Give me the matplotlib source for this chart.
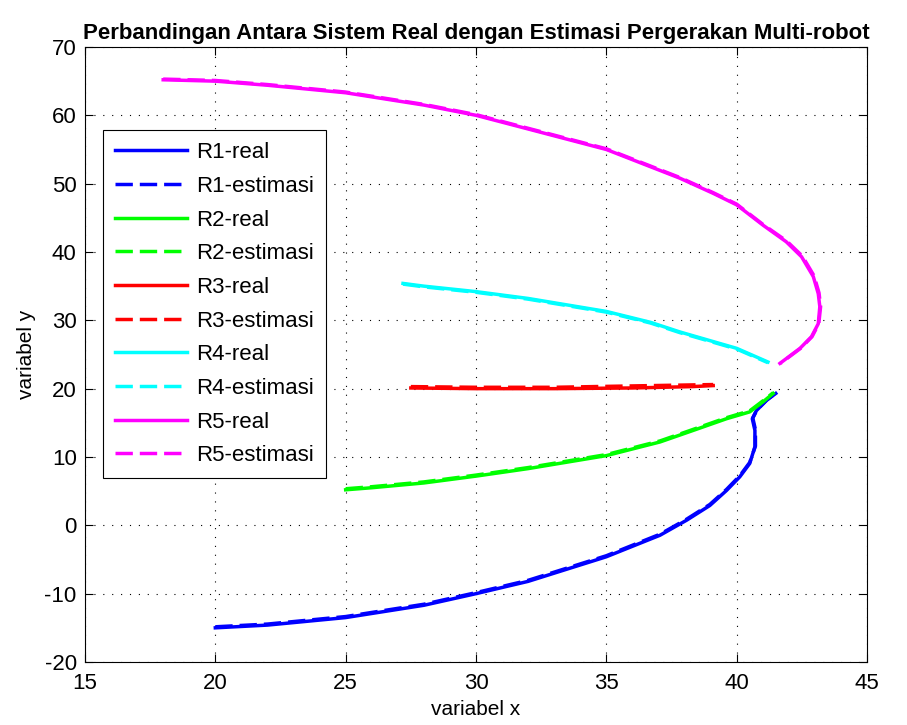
import matplotlib.pyplot as plt
import numpy as np

plt.rcParams['font.family'] = ['Liberation Sans', 'DejaVu Sans']
plt.rcParams['axes.unicode_minus'] = False

# robot paths (x, y)
r1_x = [20, 22, 25, 28, 30, 32, 35, 37.06, 38.08, 38.97, 39.61, 40.12, 40.5, 40.7, 40.7, 40.6, 40.76, 41.15, 41.5]
r1_y = [-15, -14.6, -13.5, -11.7, -10, -8.2, -4.6, -1.45, 0.75, 2.9, 5.1, 7.1, 9.05, 11.5, 13.9, 15.6, 16.8, 18.3, 19.3]
r1e_x = [20, 22, 25, 28, 30, 32, 35, 37.06, 38.08, 38.97, 39.61, 40.12, 40.5, 40.72, 40.72, 40.62, 40.78, 41.17, 41.52]
r1e_y = [-14.85, -14.45, -13.35, -11.55, -9.85, -8.05, -4.45, -1.3, 0.9, 3.05, 5.25, 7.25, 9.2, 11.6, 14.0, 15.7, 16.9, 18.4, 19.4]

r2_x = [25, 26, 28, 30, 32, 35, 37.06, 38.34, 39.61, 40.5, 41.02, 41.4]
r2_y = [5.2, 5.5, 6.2, 7.2, 8.3, 10.2, 12.2, 13.9, 15.6, 16.6, 18.1, 19.3]
r2e_x = [25, 26, 28, 30, 32, 35, 37.06, 38.34, 39.61, 40.5, 41.02, 41.4]
r2e_y = [5.35, 5.65, 6.35, 7.35, 8.45, 10.35, 12.35, 14.05, 15.75, 16.75, 18.25, 19.4]

r3_x = [27.5, 30, 33, 36, 38.3, 39.1]
r3_y = [20.1, 20.0, 20.0, 20.1, 20.3, 20.45]
r3e_x = [27.5, 30, 33, 36, 39.1]
r3e_y = [20.3, 20.2, 20.2, 20.4, 20.6]

r4_x = [27.2, 28, 30, 32, 35, 36.7, 37.82, 40, 41.2]
r4_y = [35.4, 35.0, 34.2, 33.2, 31.3, 29.7, 28.3, 25.9, 23.9]
r4e_x = [27.2, 28, 30, 32, 35, 36.7, 37.82, 40, 41.2]
r4e_y = [35.3, 34.9, 34.1, 33.1, 31.2, 29.6, 28.2, 25.8, 23.8]

r5_x = [18, 20, 22, 25, 28, 30, 33, 35, 37.82, 39.09, 40, 41.02, 41.9, 42.49, 42.94, 43.13, 43.19, 43.13, 42.87, 42.43, 41.66]
r5_y = [65.2, 65, 64.4, 63.3, 61.5, 60, 57, 55, 50.8, 48.6, 46.9, 43.9, 41.5, 39.3, 36.4, 33.9, 32.0, 29.5, 27.6, 25.9, 23.7]
r5e_x = [18, 20, 22, 25, 28, 30, 33, 35, 37.82, 39.09, 40, 41.02, 41.92, 42.52, 42.97, 43.16, 43.22, 43.15, 42.89, 42.45, 41.68]
r5e_y = [65.3, 65.1, 64.5, 63.4, 61.6, 60.1, 57.1, 55.1, 50.9, 48.7, 47.0, 44.0, 41.6, 39.4, 36.5, 34.0, 32.0, 29.5, 27.6, 25.9, 23.7]

fig = plt.figure(figsize=(9.07, 7.25), dpi=100)
ax = fig.add_axes([0.0937, 0.0869, 0.8622, 0.8483])

dash = (0, (5, 2))
ax.plot(r1_x, r1_y, color='#0000ff', linewidth=2.5, label='R1-real')
ax.plot(r1e_x, r1e_y, color='#0000ff', linewidth=2.5, linestyle=dash, label='R1-estimasi')
ax.plot(r2_x, r2_y, color='#00ff00', linewidth=2.5, label='R2-real')
ax.plot(r2e_x, r2e_y, color='#00ff00', linewidth=2.5, linestyle=dash, label='R2-estimasi')
ax.plot(r3_x, r3_y, color='#ff0000', linewidth=2.5, label='R3-real')
ax.plot(r3e_x, r3e_y, color='#ff0000', linewidth=2.5, linestyle=dash, label='R3-estimasi')
ax.plot(r4_x, r4_y, color='#00ffff', linewidth=2.5, label='R4-real')
ax.plot(r4e_x, r4e_y, color='#00ffff', linewidth=2.5, linestyle=dash, label='R4-estimasi')
ax.plot(r5_x, r5_y, color='#ff00ff', linewidth=2.5, label='R5-real')
ax.plot(r5e_x, r5e_y, color='#ff00ff', linewidth=2.5, linestyle=dash, label='R5-estimasi')

ax.set_xlim(15, 45)
ax.set_ylim(-20, 70)
ax.set_xticks(np.arange(15, 46, 5))
ax.set_yticks(np.arange(-20, 71, 10))
ax.grid(True, color='black', linestyle=(0, (1, 7)), linewidth=0.8)
ax.tick_params(axis='both', labelsize=16, direction='in', top=True, right=True, length=6)
ax.tick_params(axis='x', pad=8)
ax.tick_params(axis='y', pad=6)
for s in ax.spines.values():
    s.set_linewidth(0.8)

ax.set_xlabel('variabel x', fontsize=15, labelpad=4)
ax.set_ylabel('variabel y', fontsize=15, labelpad=6)
ax.set_title('Perbandingan Antara Sistem Real dengan Estimasi Pergerakan Multi-robot',
             fontsize=16, fontweight='bold', pad=6)

leg = ax.legend(loc='upper left', bbox_to_anchor=(0.023, 0.865), fontsize=16,
                handlelength=3.25, handletextpad=0.4, labelspacing=0.57, borderpad=0.55,
                fancybox=False, framealpha=1, edgecolor='black', borderaxespad=0)
leg.get_frame().set_linewidth(0.8)

plt.savefig('out.png', dpi=100)
